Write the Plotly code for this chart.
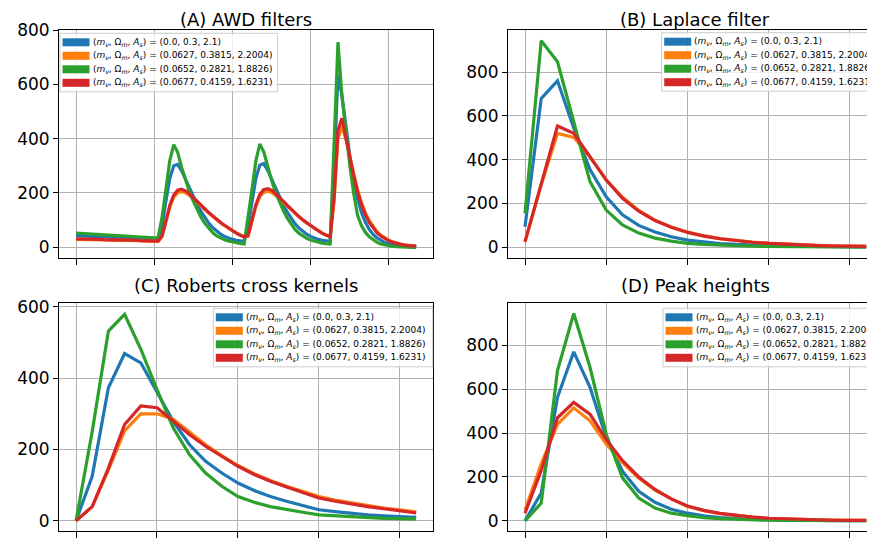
import plotly.graph_objects as go

# cosmologies shown in every panel
labels = [
    "(<i>m</i><sub><i>ν</i></sub>, Ω<sub><i>m</i></sub>, <i>A</i><sub><i>s</i></sub>) = (0.0, 0.3, 2.1)",
    "(<i>m</i><sub><i>ν</i></sub>, Ω<sub><i>m</i></sub>, <i>A</i><sub><i>s</i></sub>) = (0.0627, 0.3815, 2.2004)",
    "(<i>m</i><sub><i>ν</i></sub>, Ω<sub><i>m</i></sub>, <i>A</i><sub><i>s</i></sub>) = (0.0652, 0.2821, 1.8826)",
    "(<i>m</i><sub><i>ν</i></sub>, Ω<sub><i>m</i></sub>, <i>A</i><sub><i>s</i></sub>) = (0.0677, 0.4159, 1.6231)",
]
colors = ["#1f77b4", "#ff7f0e", "#2ca02c", "#d62728"]
titles = ["(A) AWD filters", "(B) Laplace filter", "(C) Roberts cross kernels", "(D) Peak heights"]

x_awd = list(range(88))
x_bins = list(range(22))

# (A) AWD filters: four concatenated 22-bin histograms
awd_blue = ([43, 42, 41, 41, 40, 39, 39, 38, 37, 37, 36, 35, 35, 34, 33, 33, 32, 31, 31, 30, 29, 29]
            + [80, 170, 255, 300, 305, 282, 250, 218, 186, 157, 131, 108, 88, 72, 59, 48, 40, 34, 29, 26, 24, 22]
            + [78, 168, 254, 302, 308, 284, 251, 219, 187, 157, 130, 107, 87, 71, 58, 48, 40, 34, 29, 26, 24, 22]
            + [300, 635, 560, 440, 340, 250, 180, 128, 92, 66, 47, 34, 24, 17, 12, 8, 6, 4, 3, 2, 2, 1])
awd_orange = ([29, 29, 28, 28, 28, 27, 27, 27, 26, 26, 26, 25, 25, 25, 24, 24, 24, 23, 23, 23, 22, 22]
              + [38, 95, 148, 185, 200, 205, 201, 191, 179, 166, 152, 138, 125, 112, 101, 90, 80, 70, 61, 53, 46, 40]
              + [40, 97, 150, 186, 202, 206, 202, 192, 180, 166, 152, 138, 125, 112, 100, 89, 79, 69, 60, 52, 45, 39]
              + [170, 400, 445, 400, 335, 270, 212, 165, 127, 98, 75, 57, 44, 34, 26, 20, 15, 11, 9, 7, 5, 4])
awd_green = ([52, 51, 50, 49, 48, 48, 47, 46, 45, 44, 43, 42, 42, 41, 40, 39, 38, 38, 37, 36, 35, 35]
             + [110, 215, 320, 378, 350, 295, 248, 205, 170, 138, 110, 87, 68, 53, 42, 34, 28, 23, 19, 16, 14, 12]
             + [105, 212, 318, 380, 352, 296, 248, 204, 168, 136, 108, 85, 66, 52, 41, 33, 27, 22, 18, 15, 13, 12]
             + [380, 755, 560, 420, 305, 200, 118, 80, 55, 39, 27, 18, 12, 8, 5, 3, 2, 1, 1, 1, 0, 0])
awd_red = ([31, 31, 30, 30, 29, 29, 29, 28, 28, 28, 27, 27, 27, 26, 26, 26, 25, 25, 25, 24, 24, 23]
           + [42, 100, 155, 192, 210, 214, 208, 197, 184, 170, 155, 141, 127, 114, 102, 91, 80, 70, 61, 52, 44, 38]
           + [44, 102, 157, 194, 212, 216, 210, 198, 185, 170, 155, 140, 126, 113, 101, 90, 79, 69, 60, 51, 44, 38]
           + [180, 430, 475, 410, 335, 265, 205, 158, 120, 92, 70, 53, 41, 31, 24, 18, 14, 10, 8, 6, 5, 4])

# (B) Laplace filter
lap_blue = [94, 680, 760, 545, 355, 231, 148, 100, 70, 48, 33, 24, 17, 13, 10, 8, 6, 5, 4, 3, 2, 2]
lap_orange = [24, 285, 520, 502, 412, 308, 228, 168, 124, 93, 70, 53, 40, 31, 24, 19, 15, 12, 9, 7, 6, 5]
lap_green = [155, 943, 847, 580, 300, 170, 102, 65, 42, 28, 18, 13, 9, 7, 5, 4, 3, 2, 2, 1, 1, 1]
lap_red = [26, 292, 554, 520, 414, 307, 224, 165, 122, 92, 68, 51, 39, 30, 23, 18, 14, 11, 8, 6, 5, 4]

# (C) Roberts cross kernels
rob_blue = [0, 125, 373, 469, 443, 359, 279, 214, 167, 134, 106, 85, 68, 55, 44, 31, 26, 21, 17, 14, 12, 10]
rob_orange = [0, 40, 142, 252, 300, 300, 285, 250, 213, 183, 155, 132, 113, 97, 82, 68, 58, 50, 43, 36, 31, 25]
rob_green = [0, 250, 532, 579, 481, 368, 261, 186, 134, 97, 68, 52, 40, 31, 24, 17, 14, 11, 9, 7, 6, 5]
rob_red = [0, 40, 148, 270, 322, 317, 280, 242, 209, 181, 153, 130, 111, 95, 80, 64, 55, 47, 40, 34, 29, 22]

# (D) Peak heights
pk_blue = [0, 127, 563, 770, 609, 379, 226, 135, 85, 53, 35, 23, 15, 10, 7, 5, 3, 2, 2, 1, 1, 1]
pk_orange = [50, 260, 440, 515, 456, 350, 265, 195, 140, 100, 66, 47, 33, 24, 17, 12, 9, 7, 5, 4, 3, 2]
pk_green = [0, 81, 685, 945, 700, 395, 196, 104, 58, 35, 24, 15, 10, 7, 5, 3, 2, 2, 1, 1, 1, 1]
pk_red = [35, 230, 470, 540, 486, 370, 275, 200, 143, 100, 68, 48, 34, 24, 17, 12, 9, 6, 5, 3, 2, 2]

panels = [
    (x_awd, [awd_blue, awd_orange, awd_green, awd_red]),
    (x_bins, [lap_blue, lap_orange, lap_green, lap_red]),
    (x_bins, [rob_blue, rob_orange, rob_green, rob_red]),
    (x_bins, [pk_blue, pk_orange, pk_green, pk_red]),
]

# the page body adds an 8px margin, so the figure is drawn 8px smaller
# and all positions below are window pixels shifted by that offset
OFF = 8
W, H = 875 - OFF, 539 - OFF


def px(xp):
    return (xp - OFF) / W


def py(yp):
    return 1 - (yp - OFF) / H


# axes boxes in window pixels: left, right, top, bottom
boxes = [(59, 433, 30, 257.6), (508, 874, 30, 257.6), (59, 433, 302.5, 531.2), (508, 874, 302.5, 531.2)]
xranges = [[-4.35, 91.3], [-1.046, 21.48], [-1.05, 22.04], [-1.046, 21.48]]
xdticks = [20, 5, 5, 5]
yranges = [[-38, 800], [-47, 992], [-29, 612], [-47, 995]]
ytickvals = [[0, 200, 400, 600, 800], [0, 200, 400, 600, 800], [0, 200, 400, 600], [0, 200, 400, 600, 800]]
title_y = [19.5, 19.5, 285, 285]
# legend frames: left, top, right (window pixels)
legend_box = [(60, 33.3, 277.7), (661.7, 32.7, 875), (213.3, 308.3, 432.7), (663, 308.3, 875)]

fig = go.Figure()
for p, (xs, series) in enumerate(panels):
    sfx = "" if p == 0 else str(p + 1)
    for k, ys in enumerate(series):
        fig.add_trace(go.Scatter(x=xs, y=ys, mode="lines", line=dict(color=colors[k], width=3.2),
                                 xaxis="x" + sfx, yaxis="y" + sfx, showlegend=False, hoverinfo="skip"))

layout = dict(
    width=W, height=H, autosize=False, showlegend=False,
    margin=dict(l=0, r=0, t=0, b=0, autoexpand=False),
    paper_bgcolor="white", plot_bgcolor="white",
    font=dict(family="DejaVu Sans", size=16, color="black"),
    annotations=[], shapes=[],
)
for p in range(4):
    sfx = "" if p == 0 else str(p + 1)
    l, r, t, b = boxes[p]
    layout["xaxis" + sfx] = dict(
        domain=[px(l), px(r)], range=xranges[p], tick0=0, dtick=xdticks[p],
        showticklabels=False, ticks="outside", ticklen=6, tickcolor="black",
        showgrid=True, gridcolor="#b0b0b0", gridwidth=1, zeroline=False,
        showline=True, linecolor="black", linewidth=1, mirror=True,
        anchor="y" + sfx,
    )
    layout["yaxis" + sfx] = dict(
        domain=[py(b), py(t)], range=yranges[p], tickvals=ytickvals[p],
        ticks="outside", ticklen=5, tickcolor="black", tickfont=dict(size=17),
        showgrid=True, gridcolor="#b0b0b0", gridwidth=1, zeroline=False,
        showline=True, linecolor="black", linewidth=1, mirror=True,
        anchor="x" + sfx,
    )
    layout["annotations"].append(dict(
        text=titles[p], x=px((l + (r if p % 2 == 0 else 882)) / 2),
        y=py(title_y[p]), xref="paper", yref="paper",
        xanchor="center", yanchor="middle", showarrow=False, font=dict(size=18),
    ))
    # legend frame with colour swatches and labels
    bl, bt, br = legend_box[p]
    layout["shapes"].append(dict(
        type="rect", xref="paper", yref="paper", layer="above",
        x0=px(bl), x1=px(br), y0=py(bt), y1=py(bt + 58.5),
        fillcolor="rgba(255,255,255,0.8)", line=dict(color="#cccccc", width=1),
    ))
    for k in range(4):
        yc = bt + 9 + 13.5 * k
        layout["shapes"].append(dict(
            type="rect", xref="paper", yref="paper", layer="above",
            x0=px(bl + 2.5), x1=px(bl + 29.5), y0=py(yc - 4), y1=py(yc + 4),
            fillcolor=colors[k], line=dict(width=0),
        ))
        layout["annotations"].append(dict(
            text=labels[k], x=px(bl + 30.5), y=py(yc), xref="paper", yref="paper",
            xanchor="left", yanchor="middle", showarrow=False,
            font=dict(size=9, family="DejaVu Sans"),
        ))

fig.update_layout(**layout)
fig.write_html("out.html")
